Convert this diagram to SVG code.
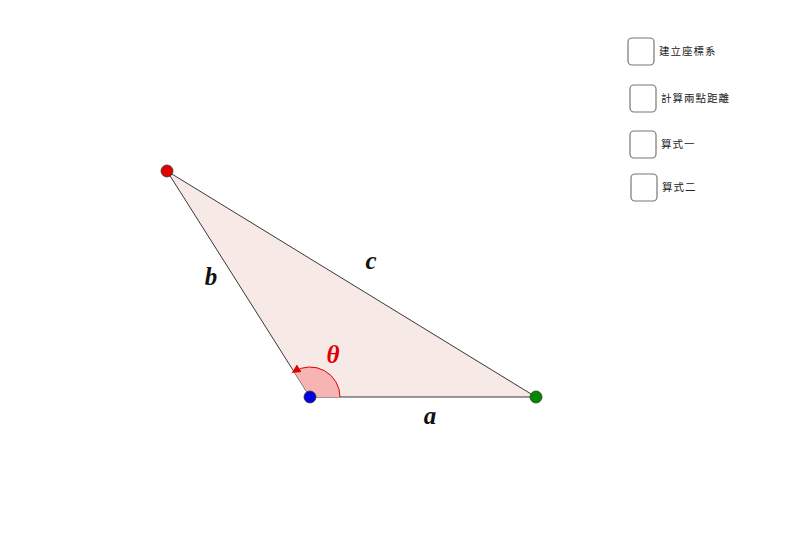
<svg xmlns="http://www.w3.org/2000/svg" width="800" height="550" viewBox="0 0 800 550">
<style>
.pt{stroke:#333;stroke-width:0.8}
.lbl{font-family:"Liberation Serif",serif;font-weight:bold;font-style:italic;font-size:25px;fill:#111;text-anchor:middle}
.box{fill:#fff;stroke:#777;stroke-width:1.2}
.cb{font-family:"Noto Sans CJK TC","Noto Sans CJK SC",sans-serif;font-size:10.5px;letter-spacing:1px;fill:#222}
</style>
<defs>
<marker id="ah" viewBox="0 0 10 10" refX="7" refY="5" markerWidth="9" markerHeight="9" orient="auto" markerUnits="userSpaceOnUse">
<path d="M0,0 L10,5 L0,10 z" fill="#e00000"/>
</marker>
</defs>
<rect width="800" height="550" fill="#fff"/>
<g id="triangle">
<polygon points="167,171 310,397 536,397" fill="#f6e9e6" stroke="#222" stroke-width="0.9"/>
</g>
<g id="angle">
<path d="M310,397 L340,397 A30,30 0 0,0 294,371.6 Z" fill="#f6b4b4" stroke="none"/>
<path d="M340,397 A30,30 0 0,0 294,371.6" fill="none" stroke="#e00000" stroke-width="1" marker-end="url(#ah)"/>
<text x="333" y="363" class="lbl" style="fill:#e00000">θ</text>
</g>
<g id="labels">
<text x="211" y="285" class="lbl">b</text>
<text x="371" y="269" class="lbl">c</text>
<text x="430" y="424" class="lbl">a</text>
</g>
<g id="points">
<circle id="A" cx="167" cy="171" r="6" fill="#e00000" class="pt"/>
<circle id="B" cx="310" cy="397" r="6" fill="#0000e0" class="pt"/>
<circle id="C" cx="536" cy="397" r="6" fill="#008a00" class="pt"/>
</g>
<g id="cb1"><rect x="628" y="38" width="26" height="27" rx="4" class="box"/><text x="659" y="55" class="cb">建立座標系</text></g>
<g id="cb2"><rect x="630" y="85" width="26" height="27" rx="4" class="box"/><text x="661" y="102" class="cb">計算兩點距離</text></g>
<g id="cb3"><rect x="630" y="131" width="26" height="27" rx="4" class="box"/><text x="661" y="148" class="cb">算式一</text></g>
<g id="cb4"><rect x="631" y="174" width="26" height="27" rx="4" class="box"/><text x="662" y="191" class="cb">算式二</text></g>
</svg>
